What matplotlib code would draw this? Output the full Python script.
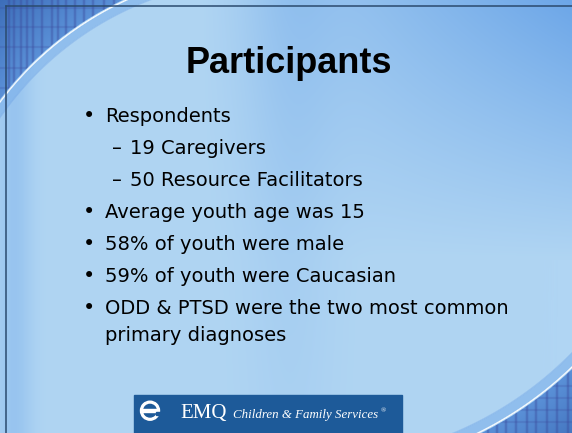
import numpy as np
import matplotlib
matplotlib.use("Agg")
import matplotlib.pyplot as plt
from matplotlib.patches import Rectangle, Circle

# slide content
title = "Participants"
items = ["Respondents",
         "19 Caregivers",
         "50 Resource Facilitators",
         "Average youth age was 15",
         "58% of youth were male",
         "59% of youth were Caucasian",
         "ODD & PTSD were the two most common\nprimary diagnoses"]
levels = [1, 2, 2, 1, 1, 1, 1]
logo_name = "EMQ"
logo_tag = "Children & Family Services"

W, H = 572, 433

def hexrgb(h):
    return np.array([int(h[i:i + 2], 16) / 255.0 for i in (1, 3, 5)])

def blend(img, col, a):
    return img * (1 - a[..., None]) + hexrgb(col) * a[..., None]

## background: light blue slide with darker streaks
yy, xx = np.mgrid[0:H, 0:W] + 0.5
g1 = np.clip((xx - 200) / 372, 0, 1) * np.clip(1 - yy / 260, 0, 1)
g2 = 0.22 * np.exp(-((xx - 290) / 45) ** 2) * (1 - 0.6 * yy / H)
g3 = 0.35 * np.exp(-((xx - 14) / 18) ** 2)
m = np.clip(g1 + g2 + g3, 0, 1)
img = hexrgb("#b0d5f3") * (1 - m[..., None]) + hexrgb("#6ca6e8") * m[..., None]

def corner(img, r, R_line, R_band, vx, hy, region):
    region = region.astype(float)
    # band on the bright side of the arc
    band = np.clip(r - R_band, 0, 1) * np.clip(R_line - r, 0, 1) * region
    img = blend(img, "#7cb0ea", 0.6 * band)
    edge = np.clip(1 - np.abs(r - R_band) / 1.3, 0, 1) * region
    img = blend(img, "#6a9fe4", 0.45 * edge)
    # grid on the corner side
    gm = np.clip(r - R_line - 1, 0, 1) * region
    depth = np.clip((r - R_line) / 90, 0, 1)
    base = hexrgb("#5b91d8") * (1 - depth[..., None]) + hexrgb("#3463b0") * depth[..., None]
    img = img * (1 - gm[..., None]) + base * gm[..., None]
    v = np.zeros_like(r)
    for x0 in vx:
        v = np.maximum(v, np.exp(-((xx - x0) / 1.3) ** 2))
    h = np.zeros_like(r)
    for y0 in hy:
        h = np.maximum(h, np.exp(-((yy - y0) / 1.0) ** 2))
    img = blend(img, "#3a4a9c", 0.45 * v * gm)
    img = blend(img, "#3a4a9c", 0.3 * h * gm)
    # white arc
    wl = np.clip(1 - np.abs(r - R_line) / 1.2, 0, 1) * region
    img = blend(img, "#ffffff", wl)
    return img

r1 = np.hypot(xx - 264, yy - 300)
img = corner(img, r1, 330, 321,
             [9, 14, 21, 27, 33, 42, 52, 58, 66, 75, 84, 93, 104, 114],
             [8, 27, 47, 68, 88],
             (xx < 250) & (yy < 250))
r2 = np.hypot(xx - 314.4, yy - 100)
img = corner(img, r2, 371, 361,
             [488, 497, 506, 516, 527, 536, 547, 557, 568],
             [386, 398, 410, 422],
             (xx > 400) & (yy > 250))

fig = plt.figure(figsize=(5.72, 4.33), dpi=100)
ax = fig.add_axes([0, 0, 1, 1])
ax.imshow(np.clip(img, 0, 1), extent=(0, W, H, 0), aspect="auto", interpolation="bilinear")
ax.set_xlim(0, W)
ax.set_ylim(H, 0)
ax.axis("off")

# slide frame
ax.plot([5.5, W], [5.5, 5.5], color="#2b4a6e", lw=1.1)
ax.plot([5.5, 5.5], [5.5, H], color="#2b4a6e", lw=1.1)

ax.text(288.5, 73, title, ha="center", va="baseline", fontsize=26,
        fontweight="bold", family="Liberation Sans", color="#000000")

y = 122
for txt, lv in zip(items, levels):
    lines = txt.split("\n")
    if lv == 1:
        ax.text(83, y, "•", ha="left", va="baseline", fontsize=15, color="#000000")
        x0 = 105
    else:
        ax.text(112, y, "–", ha="left", va="baseline", fontsize=14, color="#000000")
        x0 = 130
    for k, ln in enumerate(lines):
        ax.text(x0, y + 27 * k, ln, ha="left", va="baseline", fontsize=14, color="#000000")
    y += 32 + 27 * (len(lines) - 1)

## logo bar
ax.add_patch(Rectangle((134, 395), 268, 40, color="#1d5a99", zorder=3))
ax.add_patch(Circle((150, 410.7), 9.5, color="white", zorder=4))
ax.add_patch(Circle((150, 410.7), 6.3, color="#1d5a99", zorder=5))
ax.add_patch(Rectangle((142, 409.2), 15, 3.0, color="white", zorder=6))
ax.add_patch(Rectangle((155.5, 412.2), 5, 2.3, color="#1d5a99", zorder=6))
ax.text(180, 418, logo_name, ha="left", va="baseline", fontsize=15,
        family="Liberation Serif", color="white", zorder=7)
ax.text(233, 418, logo_tag, ha="left", va="baseline", fontsize=9.3,
        family="Liberation Serif", style="italic", color="white", zorder=7)
ax.text(381, 412, "®", ha="left", va="baseline", fontsize=5,
        family="Liberation Serif", color="white", zorder=7)

fig.savefig("out.png", dpi=100)
